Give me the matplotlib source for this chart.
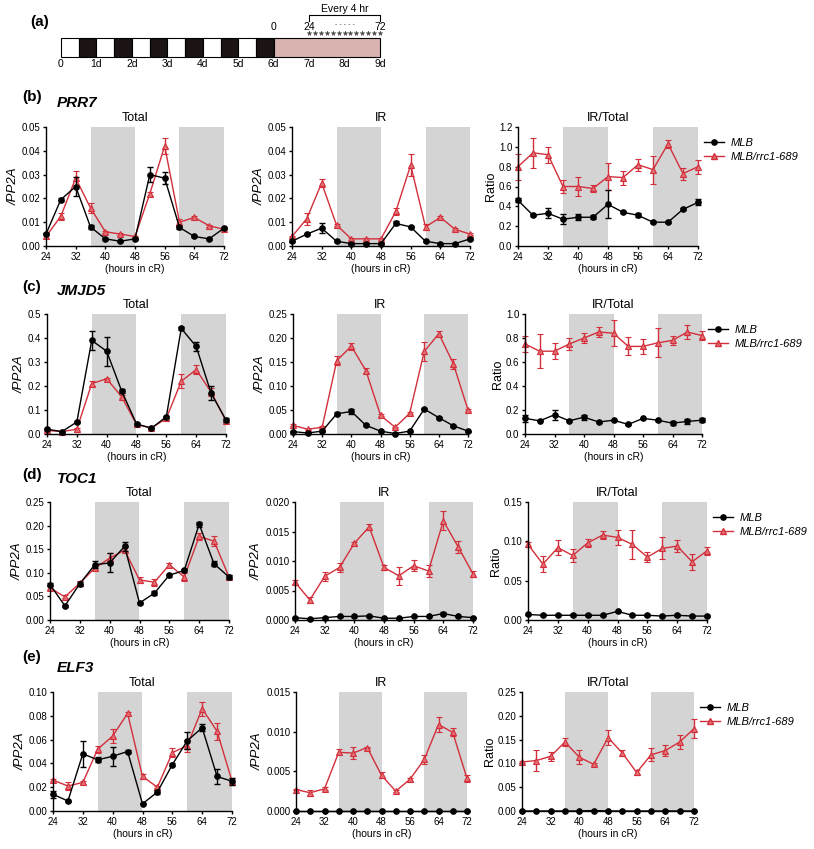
import matplotlib
matplotlib.use("Agg")
import matplotlib.pyplot as plt
from matplotlib.lines import Line2D
import numpy as np

W, H = 814, 849
plt.rcParams["font.family"] = ["Liberation Sans", "DejaVu Sans"]

RED = "#d22f3a"
RED_FACE = "#e36f76"
SHADE = "#d4d4d4"

# ---------------------------------------------------------------------------
# Panel (a) : schéma expérimental
# ---------------------------------------------------------------------------
LD_PHASE_DAYS = [0, 0.5, 1, 1.5, 2, 2.5, 3, 3.5, 4, 4.5, 5, 5.5]
LD_PHASES = ["L", "D", "L", "D", "L", "D", "L", "D", "L", "D", "L", "D"]
FREE_RUN_DAYS = (6, 9)
DAY_LABELS = ["0", "1d", "2d", "3d", "4d", "5d", "6d", "7d", "8d", "9d"]

# ---------------------------------------------------------------------------
# Données
# ---------------------------------------------------------------------------
HOURS = [24, 28, 32, 36, 40, 44, 48, 52, 56, 60, 64, 68, 72]
DARK_WINDOWS = [(36, 48), (60, 72)]
GENES = ["PRR7", "JMJD5", "TOC1", "ELF3"]
TAGS = ["(b)", "(c)", "(d)", "(e)"]
MEASURES = ["Total", "IR", "IR/Total"]

# PRR7
PRR7_TOTAL_MLB = [0.005, 0.0195, 0.025, 0.008, 0.003, 0.002, 0.003, 0.030, 0.0285, 0.0078, 0.004, 0.003, 0.0075]
PRR7_TOTAL_MLB_SD = [0.0005, 0.0005, 0.004, 0.001, 0.0003, 0.0003, 0.0003, 0.003, 0.0025, 0.0008, 0.0003, 0.0003, 0.0005]
PRR7_TOTAL_RRC = [0.004, 0.0125, 0.0285, 0.016, 0.006, 0.005, 0.004, 0.022, 0.042, 0.010, 0.012, 0.0085, 0.007]
PRR7_TOTAL_RRC_SD = [0.0005, 0.0015, 0.003, 0.002, 0.0005, 0.0003, 0.0003, 0.0008, 0.0035, 0.0015, 0.0004, 0.0004, 0.0004]
PRR7_IR_MLB = [0.002, 0.005, 0.0075, 0.002, 0.001, 0.001, 0.001, 0.0095, 0.008, 0.002, 0.001, 0.001, 0.003]
PRR7_IR_MLB_SD = [0.0003, 0.0005, 0.002, 0.0003, 0.0002, 0.0002, 0.0002, 0.0008, 0.0005, 0.0003, 0.0002, 0.0002, 0.0003]
PRR7_IR_RRC = [0.004, 0.0115, 0.0265, 0.0088, 0.003, 0.003, 0.003, 0.0145, 0.034, 0.008, 0.012, 0.007, 0.005]
PRR7_IR_RRC_SD = [0.0003, 0.0025, 0.0015, 0.0005, 0.0003, 0.0003, 0.0003, 0.0015, 0.0045, 0.0012, 0.0004, 0.0004, 0.0003]
PRR7_RATIO_MLB = [0.46, 0.31, 0.33, 0.27, 0.29, 0.29, 0.42, 0.34, 0.31, 0.24, 0.24, 0.37, 0.44]
PRR7_RATIO_MLB_SD = [0.02, 0.01, 0.05, 0.05, 0.03, 0.02, 0.14, 0.01, 0.02, 0.01, 0.01, 0.01, 0.03]
PRR7_RATIO_RRC = [0.80, 0.94, 0.92, 0.60, 0.60, 0.58, 0.70, 0.69, 0.82, 0.77, 1.03, 0.73, 0.80]
PRR7_RATIO_RRC_SD = [0.13, 0.15, 0.08, 0.07, 0.10, 0.04, 0.14, 0.07, 0.06, 0.14, 0.04, 0.06, 0.07]

# JMJD5
JMJD5_TOTAL_MLB = [0.02, 0.01, 0.05, 0.39, 0.345, 0.18, 0.042, 0.024, 0.072, 0.44, 0.365, 0.17, 0.058]
JMJD5_TOTAL_MLB_SD = [0.003, 0.002, 0.005, 0.04, 0.06, 0.008, 0.005, 0.003, 0.005, 0.005, 0.018, 0.03, 0.01]
JMJD5_TOTAL_RRC = [0.015, 0.01, 0.02, 0.21, 0.23, 0.156, 0.04, 0.025, 0.065, 0.22, 0.268, 0.175, 0.055]
JMJD5_TOTAL_RRC_SD = [0.003, 0.002, 0.003, 0.012, 0.005, 0.008, 0.004, 0.002, 0.005, 0.03, 0.02, 0.015, 0.005]
JMJD5_IR_MLB = [0.005, 0.002, 0.006, 0.042, 0.047, 0.018, 0.006, 0.001, 0.006, 0.052, 0.034, 0.017, 0.006]
JMJD5_IR_MLB_SD = [0.001, 0.001, 0.001, 0.003, 0.006, 0.002, 0.001, 0.0005, 0.001, 0.003, 0.002, 0.002, 0.001]
JMJD5_IR_RRC = [0.018, 0.01, 0.014, 0.153, 0.183, 0.132, 0.039, 0.014, 0.043, 0.172, 0.209, 0.146, 0.05]
JMJD5_IR_RRC_SD = [0.002, 0.001, 0.002, 0.01, 0.007, 0.005, 0.002, 0.001, 0.002, 0.02, 0.005, 0.01, 0.002]
JMJD5_RATIO_MLB = [0.13, 0.11, 0.16, 0.11, 0.14, 0.10, 0.115, 0.08, 0.13, 0.115, 0.09, 0.105, 0.115]
JMJD5_RATIO_MLB_SD = [0.03, 0.005, 0.04, 0.005, 0.02, 0.005, 0.005, 0.005, 0.005, 0.005, 0.015, 0.02, 0.015]
JMJD5_RATIO_RRC = [0.75, 0.69, 0.69, 0.75, 0.80, 0.85, 0.84, 0.73, 0.73, 0.76, 0.78, 0.85, 0.82]
JMJD5_RATIO_RRC_SD = [0.07, 0.14, 0.065, 0.05, 0.04, 0.04, 0.11, 0.075, 0.065, 0.12, 0.04, 0.055, 0.04]

# TOC1
TOC1_TOTAL_MLB = [0.075, 0.030, 0.077, 0.117, 0.121, 0.156, 0.036, 0.057, 0.095, 0.105, 0.203, 0.119, 0.091]
TOC1_TOTAL_MLB_SD = [0.003, 0.002, 0.004, 0.007, 0.02, 0.01, 0.002, 0.004, 0.003, 0.003, 0.005, 0.005, 0.005]
TOC1_TOTAL_RRC = [0.068, 0.049, 0.078, 0.110, 0.131, 0.148, 0.085, 0.080, 0.117, 0.091, 0.177, 0.167, 0.091]
TOC1_TOTAL_RRC_SD = [0.003, 0.003, 0.004, 0.005, 0.01, 0.007, 0.006, 0.007, 0.004, 0.008, 0.007, 0.01, 0.004]
TOC1_IR_MLB = [0.0004, 0.0002, 0.0004, 0.0006, 0.0006, 0.0007, 0.0003, 0.0003, 0.0006, 0.0006, 0.0011, 0.0006, 0.0004]
TOC1_IR_MLB_SD = [0.0001, 0.0001, 0.0001, 0.0001, 0.0001, 0.0002, 0.0001, 0.0001, 0.0001, 0.0001, 0.0002, 0.0001, 0.0001]
TOC1_IR_RRC = [0.0064, 0.0034, 0.0074, 0.0089, 0.0130, 0.0158, 0.0089, 0.0075, 0.0092, 0.0083, 0.0168, 0.0124, 0.0078]
TOC1_IR_RRC_SD = [0.0003, 0.0005, 0.0008, 0.0008, 0.0003, 0.0005, 0.0005, 0.0015, 0.0009, 0.001, 0.0016, 0.001, 0.0005]
TOC1_RATIO_MLB = [0.007, 0.006, 0.006, 0.006, 0.006, 0.006, 0.011, 0.006, 0.006, 0.005, 0.006, 0.005, 0.005]
TOC1_RATIO_MLB_SD = [0.001, 0.001, 0.001, 0.001, 0.001, 0.001, 0.001, 0.001, 0.001, 0.001, 0.001, 0.001, 0.001]
TOC1_RATIO_RRC = [0.096, 0.071, 0.092, 0.082, 0.098, 0.108, 0.105, 0.096, 0.080, 0.091, 0.094, 0.074, 0.088]
TOC1_RATIO_RRC_SD = [0.003, 0.01, 0.01, 0.008, 0.005, 0.005, 0.01, 0.018, 0.006, 0.014, 0.008, 0.01, 0.005]

# ELF3
ELF3_TOTAL_MLB = [0.014, 0.0084, 0.048, 0.043, 0.046, 0.050, 0.006, 0.016, 0.039, 0.059, 0.070, 0.029, 0.025]
ELF3_TOTAL_MLB_SD = [0.003, 0.001, 0.011, 0.002, 0.008, 0.001, 0.0005, 0.002, 0.001, 0.007, 0.003, 0.006, 0.003]
ELF3_TOTAL_RRC = [0.026, 0.021, 0.024, 0.052, 0.063, 0.082, 0.029, 0.020, 0.049, 0.055, 0.086, 0.067, 0.025]
ELF3_TOTAL_RRC_SD = [0.001, 0.003, 0.001, 0.003, 0.006, 0.001, 0.002, 0.001, 0.004, 0.005, 0.006, 0.007, 0.003]
ELF3_IR_MLB = [0, 0, 0, 0, 0, 0, 0, 0, 0, 0, 0, 0, 0]
ELF3_IR_MLB_SD = [0, 0, 0, 0, 0, 0, 0, 0, 0, 0, 0, 0, 0]
ELF3_IR_RRC = [0.0027, 0.0023, 0.0028, 0.0074, 0.0073, 0.0080, 0.0045, 0.0025, 0.0040, 0.0065, 0.0109, 0.0099, 0.0041]
ELF3_IR_RRC_SD = [0.0001, 0.0004, 0.0002, 0.0004, 0.0008, 0.0001, 0.0004, 0.0001, 0.0002, 0.0006, 0.001, 0.0005, 0.0005]
ELF3_RATIO_MLB = [0, 0, 0, 0, 0, 0.001, 0, 0, 0, 0, 0, 0, 0]
ELF3_RATIO_MLB_SD = [0, 0, 0, 0, 0, 0, 0, 0, 0, 0, 0, 0, 0]
ELF3_RATIO_RRC = [0.103, 0.106, 0.115, 0.145, 0.113, 0.098, 0.154, 0.122, 0.081, 0.118, 0.127, 0.145, 0.173]
ELF3_RATIO_RRC_SD = [0.002, 0.022, 0.01, 0.008, 0.015, 0.002, 0.016, 0.006, 0.006, 0.014, 0.012, 0.015, 0.02]

# Axes Y : (max, pas, décimales) par gène et par mesure
Y_AXES = {
    "PRR7": [(0.05, 0.01, 2), (0.05, 0.01, 2), (1.2, 0.2, 1)],
    "JMJD5": [(0.5, 0.1, 1), (0.25, 0.05, 2), (1.0, 0.2, 1)],
    "TOC1": [(0.25, 0.05, 2), (0.020, 0.005, 3), (0.15, 0.05, 2)],
    "ELF3": [(0.10, 0.02, 2), (0.015, 0.005, 3), (0.25, 0.05, 2)],
}

SERIES = {
    "PRR7": [
        (PRR7_TOTAL_MLB, PRR7_TOTAL_MLB_SD, PRR7_TOTAL_RRC, PRR7_TOTAL_RRC_SD),
        (PRR7_IR_MLB, PRR7_IR_MLB_SD, PRR7_IR_RRC, PRR7_IR_RRC_SD),
        (PRR7_RATIO_MLB, PRR7_RATIO_MLB_SD, PRR7_RATIO_RRC, PRR7_RATIO_RRC_SD),
    ],
    "JMJD5": [
        (JMJD5_TOTAL_MLB, JMJD5_TOTAL_MLB_SD, JMJD5_TOTAL_RRC, JMJD5_TOTAL_RRC_SD),
        (JMJD5_IR_MLB, JMJD5_IR_MLB_SD, JMJD5_IR_RRC, JMJD5_IR_RRC_SD),
        (JMJD5_RATIO_MLB, JMJD5_RATIO_MLB_SD, JMJD5_RATIO_RRC, JMJD5_RATIO_RRC_SD),
    ],
    "TOC1": [
        (TOC1_TOTAL_MLB, TOC1_TOTAL_MLB_SD, TOC1_TOTAL_RRC, TOC1_TOTAL_RRC_SD),
        (TOC1_IR_MLB, TOC1_IR_MLB_SD, TOC1_IR_RRC, TOC1_IR_RRC_SD),
        (TOC1_RATIO_MLB, TOC1_RATIO_MLB_SD, TOC1_RATIO_RRC, TOC1_RATIO_RRC_SD),
    ],
    "ELF3": [
        (ELF3_TOTAL_MLB, ELF3_TOTAL_MLB_SD, ELF3_TOTAL_RRC, ELF3_TOTAL_RRC_SD),
        (ELF3_IR_MLB, ELF3_IR_MLB_SD, ELF3_IR_RRC, ELF3_IR_RRC_SD),
        (ELF3_RATIO_MLB, ELF3_RATIO_MLB_SD, ELF3_RATIO_RRC, ELF3_RATIO_RRC_SD),
    ],
}

# Mise en page en pixels : (haut, bas, colonnes gauche/droite, y tag, y gène)
LAYOUT = [
    (127, 246, [(46, 224), (292, 470), (518, 698)], 97, 103),
    (314, 434, [(47, 226), (293, 468), (525, 702)], 287, 291),
    (502, 620, [(50, 229), (295, 473), (528, 707)], 475, 479),
    (692, 811, [(53, 232), (296, 467), (522, 694)], 657, 668),
]


def px_box(left, right, top, bottom):
    return [left / W, 1 - bottom / H, (right - left) / W, (bottom - top) / H]


def no_clip(container):
    for art in container.lines[0:1] + tuple(container.lines[1]) + tuple(container.lines[2]):
        if art is not None:
            art.set_clip_on(False)


def draw_panel(ax, mlb, mlb_sd, rrc, rrc_sd, yconf, ylabel, title):
    for start, end in DARK_WINDOWS:
        ax.axvspan(start, end, color=SHADE, lw=0, zorder=0)
    eb = ax.errorbar(HOURS, rrc, yerr=rrc_sd, color=RED, marker="^", ms=4,
                     mfc=RED_FACE, mec=RED, mew=0.8, lw=1.0, elinewidth=1.0,
                     capsize=2.3, capthick=1.0, zorder=3)
    no_clip(eb)
    eb = ax.errorbar(HOURS, mlb, yerr=mlb_sd, color="black", marker="o", ms=3.8,
                     lw=1.0, elinewidth=1.0, capsize=2.3, capthick=1.0, zorder=4)
    no_clip(eb)

    ymax, step, dec = yconf
    ax.set_xlim(24, 72)
    ax.set_ylim(0, ymax)
    ticks = np.arange(0, ymax + step / 2, step)
    ax.set_yticks(ticks)
    ax.set_yticklabels([f"{t:.{dec}f}" for t in ticks])
    ax.set_xticks([24, 32, 40, 48, 56, 64, 72])
    for side in ("top", "right"):
        ax.spines[side].set_visible(False)
    for side in ("left", "bottom"):
        ax.spines[side].set_linewidth(1.0)
        ax.spines[side].set_zorder(5)
    ax.tick_params(axis="both", labelsize=7, width=1.0, length=2.5, pad=1.5)
    ax.set_xlabel("(hours in cR)", fontsize=7.5, labelpad=2)
    if ylabel == "Ratio":
        ax.set_ylabel("Ratio", fontsize=9, labelpad=1.5)
    else:
        ax.set_ylabel(ylabel, fontsize=9.5, style="italic", labelpad=1.5)
    ax.set_title(title, fontsize=9, pad=4)


def main() -> None:
    fig = plt.figure(figsize=(W / 100, H / 100), dpi=100)

    # (a) schéma
    ax_a = fig.add_axes(px_box(61, 380, 0, 75))
    ax_a.set_xlim(0, 9)
    ax_a.set_ylim(75, 0)
    ax_a.axis("off")
    colors = ["white" if p == "L" else "#1c1414" for p in LD_PHASES]
    ax_a.bar(LD_PHASE_DAYS, 19, width=0.5, bottom=38, align="edge",
             color=colors, edgecolor="black", lw=0.8, clip_on=False)
    ax_a.bar(FREE_RUN_DAYS[0], 19, width=FREE_RUN_DAYS[1] - FREE_RUN_DAYS[0],
             bottom=38, align="edge", color="#d8b3b0", edgecolor="black",
             lw=0.8, clip_on=False)
    for d, lab in enumerate(DAY_LABELS):
        ax_a.text(d, 64, lab, ha="center", va="center", fontsize=7.5, clip_on=False)
    sample_days = [FREE_RUN_DAYS[0] + h / 24 for h in HOURS]
    ax_a.plot(sample_days, [33] * len(sample_days), ls="none", marker="*",
              ms=3.5, color="#444444", mew=0.3, clip_on=False)
    ax_a.text(FREE_RUN_DAYS[0], 27, "0", ha="center", va="center", fontsize=7.5)
    ax_a.text(sample_days[0], 27, str(HOURS[0]), ha="center", va="center", fontsize=7.5)
    ax_a.text(sample_days[-1], 27, str(HOURS[-1]), ha="center", va="center", fontsize=7.5)
    ax_a.text((sample_days[0] + sample_days[-1]) / 2, 25, "- - - - -",
              ha="center", va="center", fontsize=5, color="#555555")
    ax_a.plot([sample_days[0], sample_days[0], sample_days[-1], sample_days[-1]],
              [21, 15, 15, 21], color="black", lw=0.8, clip_on=False)
    ax_a.text((sample_days[0] + sample_days[-1]) / 2, 9, "Every 4 hr",
              ha="center", va="center", fontsize=7.5)
    fig.text(30 / W, 1 - 22 / H, "(a)", fontsize=11, fontweight="bold",
             ha="left", va="center")

    # (b)-(e)
    for gene, tag, (top, bottom, cols, ytag, ygene) in zip(GENES, TAGS, LAYOUT):
        fig.text(22 / W, 1 - ytag / H, tag, fontsize=11, fontweight="bold",
                 ha="left", va="center")
        fig.text(57 / W, 1 - ygene / H, gene, fontsize=11, fontweight="bold",
                 style="italic", ha="left", va="center")
        for k, (left, right) in enumerate(cols):
            ax = fig.add_axes(px_box(left, right, top, bottom))
            mlb, mlb_sd, rrc, rrc_sd = SERIES[gene][k]
            ylabel = "Ratio" if k == 2 else "/PP2A"
            draw_panel(ax, mlb, mlb_sd, rrc, rrc_sd, Y_AXES[gene][k], ylabel, MEASURES[k])
            if k == 2:
                handles = [
                    Line2D([], [], color="black", marker="o", ms=3.8, lw=1.0),
                    Line2D([], [], color=RED, marker="^", ms=4, mfc=RED_FACE, lw=1.0),
                ]
                leg = ax.legend(handles, ["MLB", "MLB/rrc1-689"], loc="upper left",
                                bbox_to_anchor=(0.99, 0.97), frameon=False,
                                fontsize=8, handlelength=1.8, handletextpad=0.6,
                                labelspacing=0.35, borderaxespad=0.3)
                for t in leg.get_texts():
                    t.set_style("italic")

    fig.savefig("out.png", dpi=100)
    plt.close(fig)


if __name__ == "__main__":
    main()
